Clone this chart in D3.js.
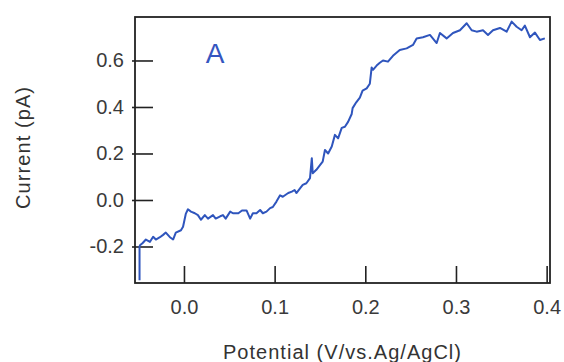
<!DOCTYPE html>
<html>
<head>
<meta charset="utf-8">
<script src="https://cdn.jsdelivr.net/npm/d3@7"></script>
<style>
  body { margin: 0; background: #fff; }
  text { font-family: "Liberation Sans", Arial, sans-serif; }
</style>
</head>
<body>
<svg id="Chart" width="564" height="362"></svg>
<script>
// Potential (V vs Ag/AgCl) and current (pA)
const potential = [
  -0.0490, -0.0490, -0.0485, -0.0455, -0.0420, -0.0375, -0.0340, -0.0310, -0.0265, -0.0230,
  -0.0200, -0.0155, -0.0120, -0.0090, -0.0033, -0.0010, 0.0020, 0.0044, 0.0077, 0.0120,
  0.0154, 0.0187, 0.0230, 0.0265, 0.0320, 0.0350, 0.0400, 0.0430, 0.0460, 0.0510,
  0.0540, 0.0600, 0.0640, 0.0690, 0.0730, 0.0760, 0.0800, 0.0840, 0.0870, 0.0910,
  0.0950, 0.0980, 0.1020, 0.1060, 0.1090, 0.1150, 0.1190, 0.1220, 0.1240, 0.1280,
  0.1310, 0.1350, 0.1390, 0.1410, 0.1420, 0.1460, 0.1500, 0.1530, 0.1555, 0.1590,
  0.1630, 0.1665, 0.1700, 0.1740, 0.1775, 0.1810, 0.1850, 0.1860, 0.1900, 0.1940,
  0.1970, 0.2015, 0.2050, 0.2070, 0.2085, 0.2125, 0.2160, 0.2195, 0.2250, 0.2305,
  0.2380, 0.2456, 0.2526, 0.2566, 0.2636, 0.2713, 0.2787, 0.2823, 0.2897, 0.2967,
  0.3044, 0.3118, 0.3173, 0.3228, 0.3298, 0.3353, 0.3408, 0.3485, 0.3559, 0.3614,
  0.3669, 0.3724, 0.3760, 0.3816, 0.3871, 0.3926, 0.3980
];
const current = [
  -0.345, -0.200, -0.195, -0.185, -0.170, -0.180, -0.158, -0.170, -0.160, -0.150,
  -0.140, -0.160, -0.170, -0.140, -0.130, -0.115, -0.060, -0.040, -0.050, -0.057,
  -0.065, -0.085, -0.065, -0.080, -0.065, -0.080, -0.070, -0.065, -0.080, -0.050,
  -0.057, -0.057, -0.045, -0.045, -0.080, -0.057, -0.057, -0.043, -0.057, -0.050,
  -0.035, -0.030, -0.007, 0.020, 0.014, 0.030, 0.036, 0.043, 0.030, 0.050,
  0.065, 0.072, 0.094, 0.180, 0.115, 0.130, 0.150, 0.165, 0.215, 0.200,
  0.230, 0.280, 0.265, 0.310, 0.315, 0.336, 0.370, 0.395, 0.420, 0.440,
  0.470, 0.480, 0.500, 0.570, 0.560, 0.578, 0.590, 0.600, 0.595, 0.620,
  0.645, 0.652, 0.667, 0.695, 0.700, 0.710, 0.675, 0.718, 0.695, 0.718,
  0.730, 0.760, 0.730, 0.724, 0.730, 0.710, 0.730, 0.740, 0.724, 0.767,
  0.745, 0.730, 0.750, 0.700, 0.720, 0.688, 0.695
];

const xTicks = [0.0, 0.1, 0.2, 0.3, 0.4];
const yTicks = [-0.2, 0.0, 0.2, 0.4, 0.6];
const xLabel = "Potential (V/vs.Ag/AgCl)";
const yLabel = "Current (pA)";
const panelLabel = "A";

const svg = d3.select("svg#Chart");
const margin = { left: 135, top: 17, right: 14, bottom: 79 };
const width = +svg.attr("width") - margin.left - margin.right;
const height = +svg.attr("height") - margin.top - margin.bottom;

const xScale = d3.scaleLinear().domain([-0.0540, 0.4037]).range([0, width]);
const yScale = d3.scaleLinear().domain([-0.357, 0.787]).range([height, 0]);

// plain hyphen for negatives, like the original plot
const fmt = d => d3.format(".1f")(d).replace("\u2212", "-");

const g = svg.append("g").attr("transform", `translate(${margin.left},${margin.top})`);

// Axes, ticks pointing into the plot
const xAxis = g.append("g")
  .attr("transform", `translate(0,${height})`)
  .call(d3.axisBottom(xScale).tickValues(xTicks).tickFormat(fmt)
    .tickSize(-17).tickPadding(17));

const yAxis = g.append("g")
  .call(d3.axisLeft(yScale).tickValues(yTicks).tickFormat(fmt)
    .tickSize(-18).tickPadding(11));

yAxis.selectAll(".tick line").attr("x1", -3);

[xAxis, yAxis].forEach(a => {
  a.select(".domain").remove();
  a.selectAll(".tick line").attr("stroke", "#222").attr("stroke-width", 1.6);
  a.selectAll(".tick text")
    .attr("fill", "#3a3a3a")
    .style("font-size", "20px");
});

// Frame
g.append("rect")
  .attr("width", width)
  .attr("height", height)
  .attr("fill", "none")
  .attr("stroke", "#222")
  .attr("stroke-width", 1.8);

// Trace
const points = potential.map((p, i) => [p, current[i]]);
const line = d3.line()
  .x(d => xScale(d[0]))
  .y(d => yScale(d[1]));

g.append("path")
  .datum(points)
  .attr("d", line)
  .attr("fill", "none")
  .attr("stroke", "#2f55bd")
  .attr("stroke-width", 2)
  .attr("stroke-linejoin", "round");

// Panel label
g.append("text")
  .attr("x", 80)
  .attr("y", 36)
  .attr("text-anchor", "middle")
  .attr("dominant-baseline", "central")
  .attr("fill", "#3556c0")
  .style("font-size", "28px")
  .style("font-weight", "300")
  .text(panelLabel);

// Axis titles
svg.append("text")
  .attr("x", 342)
  .attr("y", 352)
  .attr("text-anchor", "middle")
  .attr("dominant-baseline", "central")
  .attr("fill", "#333")
  .attr("textLength", 238)
  .style("font-size", "20px")
  .text(xLabel);

svg.append("text")
  .attr("transform", "translate(23,148) rotate(-90)")
  .attr("text-anchor", "middle")
  .attr("dominant-baseline", "central")
  .attr("fill", "#333")
  .attr("textLength", 122)
  .style("font-size", "20px")
  .text(yLabel);
</script>
</body>
</html>
